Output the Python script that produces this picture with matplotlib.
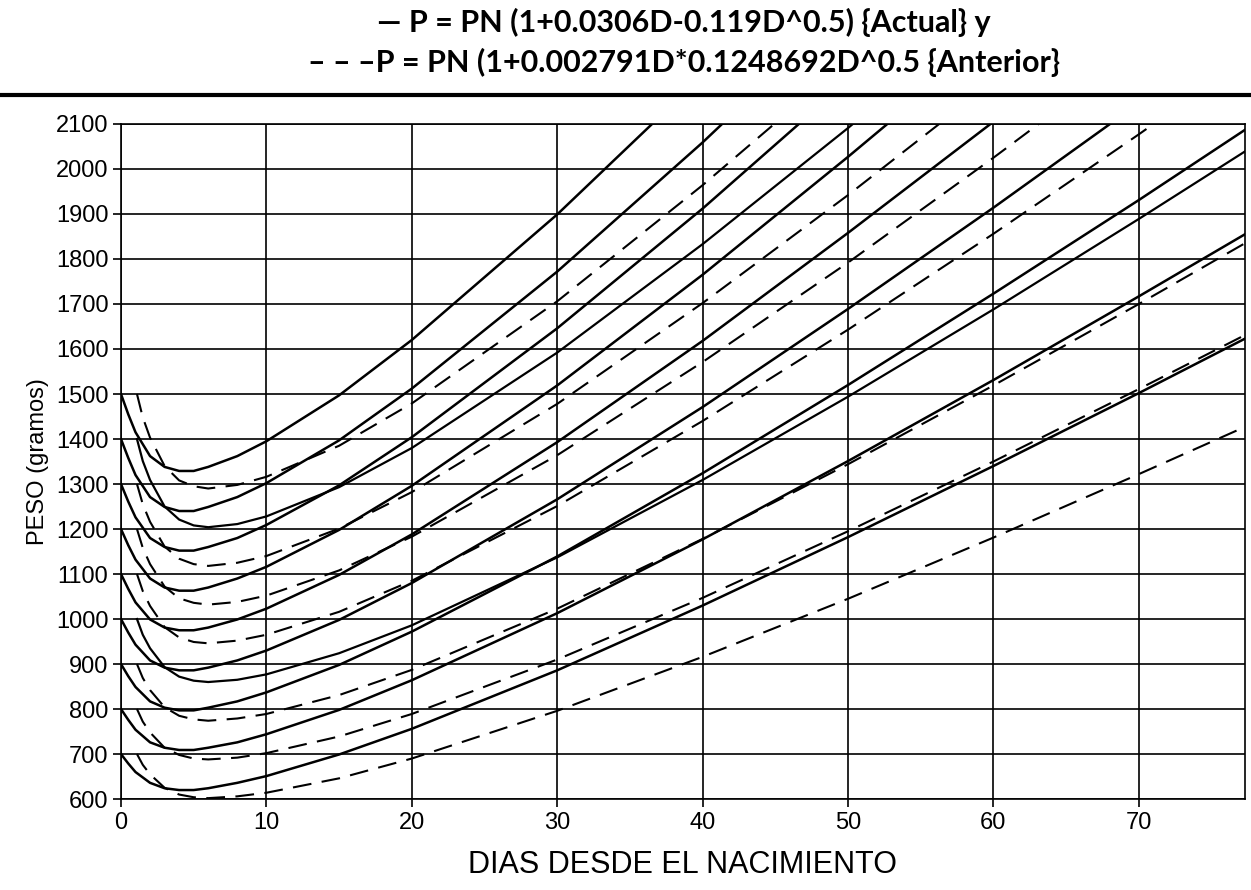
import matplotlib
matplotlib.use("Agg")
import matplotlib.pyplot as plt
from matplotlib.lines import Line2D

# Days for the "Actual" curves (solid) and the "Anterior" curves (dashed)
dias_actual = [0, 0.5, 1, 2, 3, 4, 5, 6, 8, 10, 15, 20, 30, 40, 50, 60, 70, 77.3]
dias_anterior = [1.1, 1.5, 2, 3, 4, 5, 6, 8, 10, 15, 20, 30, 40, 50, 60, 70, 77.3]

# Peso (g), one list per birth weight (PN)
actual_1500 = [1500, 1455, 1415, 1362, 1338, 1329, 1329, 1338, 1362, 1395, 1497, 1620, 1899, 2207]
actual_1400 = [1400, 1358, 1320, 1271, 1249, 1240, 1240, 1249, 1271, 1302, 1397, 1512, 1772, 2059, 2365]
actual_1300 = [1300, 1261, 1226, 1180, 1160, 1152, 1152, 1160, 1180, 1209, 1297, 1404, 1646, 1912, 2196]
actual_1200 = [1200, 1164, 1132, 1090, 1070, 1063, 1063, 1070, 1090, 1116, 1198, 1296, 1519, 1765, 2027, 2297]
actual_1100 = [1100, 1067, 1037, 999, 981, 975, 975, 981, 999, 1023, 1098, 1188, 1393, 1618, 1858, 2105]
actual_1000 = [1000, 970, 943, 908, 892, 886, 886, 892, 908, 930, 998, 1080, 1266, 1471, 1689, 1914, 2146]
actual_900 = [900, 873, 849, 817, 803, 797, 797, 803, 817, 837, 898, 972, 1139, 1324, 1520, 1723, 1931, 2087]
actual_800 = [800, 776, 754, 726, 714, 709, 709, 714, 726, 744, 798, 864, 1013, 1177, 1351, 1531, 1717, 1855]
actual_700 = [700, 679, 660, 636, 624, 620, 620, 624, 636, 651, 699, 756, 886, 1030, 1182, 1340, 1502, 1623]

anterior_1500 = [1500, 1448, 1403, 1340, 1308, 1295, 1290, 1298, 1316, 1385, 1479, 1706, 1964, 2240]
anterior_1400 = [1400, 1351, 1309, 1250, 1221, 1208, 1204, 1211, 1228, 1293, 1380, 1592, 1833, 2091, 2363]
anterior_1300 = [1300, 1255, 1216, 1161, 1134, 1122, 1118, 1125, 1140, 1201, 1282, 1478, 1702, 1942, 2194]
anterior_1200 = [1200, 1158, 1122, 1072, 1046, 1036, 1032, 1038, 1052, 1108, 1183, 1364, 1571, 1792, 2025, 2266]
anterior_1100 = [1100, 1062, 1029, 982, 959, 949, 946, 952, 965, 1016, 1085, 1251, 1440, 1643, 1856, 2077, 2243]
anterior_1000 = [1000, 965, 935, 893, 872, 863, 860, 865, 877, 924, 986, 1137, 1309, 1494, 1688, 1889, 2039]
anterior_900 = [900, 869, 842, 804, 785, 777, 774, 779, 789, 831, 887, 1023, 1178, 1344, 1519, 1700, 1835]
anterior_800 = [800, 772, 748, 714, 698, 690, 688, 692, 702, 739, 789, 910, 1047, 1195, 1350, 1511, 1631]
anterior_700 = [700, 676, 655, 625, 610, 604, 602, 606, 614, 646, 690, 796, 916, 1045, 1181, 1322, 1427]

actual_curves = [actual_1500, actual_1400, actual_1300, actual_1200, actual_1100,
                 actual_1000, actual_900, actual_800, actual_700]
anterior_curves = [anterior_1500, anterior_1400, anterior_1300, anterior_1200, anterior_1100,
                   anterior_1000, anterior_900, anterior_800, anterior_700]
# in the scan two of the "anterior" curves print as continuous lines
anterior_solid = [False, True, False, False, False, True, False, False, False]

x_ticks = [0, 10, 20, 30, 40, 50, 60, 70]
y_ticks = list(range(600, 2101, 100))

titulo_1 = "\u2014 P = PN (1+0.0306D-0.119D^0.5) {Actual} y"
titulo_2 = "\u2013 \u2013 \u2013P = PN (1+0.002791D*0.1248692D^0.5 {Anterior}"

plt.rcParams['font.family'] = ['Liberation Sans', 'DejaVu Sans']

fig = plt.figure(figsize=(12.51, 8.90), dpi=100)
ax = fig.add_axes([0.0967, 0.1022, 0.8985, 0.7585])

for peso in actual_curves:
    ax.plot(dias_actual[:len(peso)], peso, color='black', linewidth=1.8)

for peso, solid in zip(anterior_curves, anterior_solid):
    if solid:
        ax.plot(dias_anterior[:len(peso)], peso, color='black', linewidth=1.6)
    else:
        ax.plot(dias_anterior[:len(peso)], peso, color='black', linewidth=1.5,
                linestyle=(0, (9, 5)))

ax.set_xlim(0, 77.3)
ax.set_ylim(600, 2100)
ax.set_xticks(x_ticks)
ax.set_yticks(y_ticks)
ax.grid(True, color='black', linewidth=1.2)
ax.set_axisbelow(True)
ax.tick_params(direction='out', length=6, width=1.2, labelsize=17, pad=3)
for s in ax.spines.values():
    s.set_linewidth(1.2)

ax.set_xlabel('DIAS DESDE EL NACIMIENTO', fontsize=22, labelpad=12)
ax.set_ylabel('PESO (gramos)', fontsize=17, labelpad=5)

fig.text(0.547, 0.975, titulo_1, ha='center', va='center', fontsize=22,
         fontweight='bold', family=['Lato', 'DejaVu Sans'])
fig.text(0.547, 0.930, titulo_2, ha='center', va='center', fontsize=22,
         fontweight='bold', family=['Lato', 'DejaVu Sans'])
fig.add_artist(Line2D([0, 1], [0.893, 0.893], transform=fig.transFigure,
                      color='black', linewidth=3))

plt.savefig('out.png', dpi=100)
plt.close()
